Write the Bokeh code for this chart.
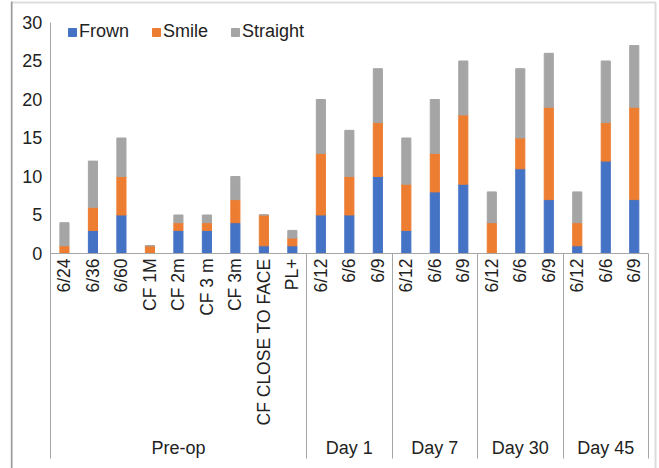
import math
from bokeh.plotting import figure
from bokeh.models import Range1d, LinearAxis, FixedTicker, ColumnDataSource, BoxAnnotation
from bokeh.embed import file_html
from bokeh.resources import INLINE

# ---- data ----
groups = ["Pre-op", "Day 1", "Day 7", "Day 30", "Day 45"]
group_sizes = [9, 3, 3, 3, 3]
categories = ["6/24", "6/36", "6/60", "CF 1M", "CF 2m", "CF 3 m", "CF 3m", "CF CLOSE TO FACE", "PL+",
              "6/12", "6/6", "6/9",
              "6/12", "6/6", "6/9",
              "6/12", "6/6", "6/9",
              "6/12", "6/6", "6/9"]
frown = [0, 3, 5, 0, 3, 3, 4, 1, 1, 5, 5, 10, 3, 8, 9, 0, 11, 7, 1, 12, 7]
smile = [1, 3, 5, 1, 1, 1, 3, 4, 1, 8, 5, 7, 6, 5, 9, 4, 4, 12, 3, 5, 12]
straight = [3, 6, 5, 0, 1, 1, 3, 0, 1, 7, 6, 7, 6, 7, 7, 4, 9, 7, 4, 8, 8]
series = ["Frown", "Smile", "Straight"]
colors = ["#4472C4", "#ED7D31", "#A5A5A5"]
y_ticks = [0, 5, 10, 15, 20, 25, 30]

# ---- derived positions ----
n = len(categories)
x_pos = [i + 0.5 for i in range(n)]
edges = [0]
for s in group_sizes:
    edges.append(edges[-1] + s)
group_centers = [(edges[i] + edges[i + 1]) / 2 for i in range(len(groups))]

src = ColumnDataSource(dict(x=x_pos, Frown=frown, Smile=smile, Straight=straight))

FONT = "Liberation Sans"
TXT = "#222222"
AXC = "#a6a6a6"

p = figure(width=659, height=468,
           x_range=Range1d(-1.7445, 21.3861), y_range=Range1d(-27.922, 32.857),
           x_axis_type=None, y_axis_type=None,
           toolbar_location=None, output_backend="svg",
           min_border_left=0, min_border_right=0, min_border_top=0, min_border_bottom=0)
p.outline_line_color = None
p.background_fill_color = "white"
p.border_fill_color = "white"

# chart-area border (no bottom edge, darker left edge as in the reference)
p.add_layout(BoxAnnotation(left=11, right=655, top=2, bottom=520,
                           left_units="canvas", right_units="canvas",
                           top_units="canvas", bottom_units="canvas",
                           fill_color=None, line_color="#8c8c8c", line_width=2))
p.add_layout(BoxAnnotation(left=10.5, right=12, top=1, bottom=520,
                           left_units="canvas", right_units="canvas",
                           top_units="canvas", bottom_units="canvas",
                           fill_color="#3a3a3a", line_color=None))

p.vbar_stack(series, x="x", width=0.32, color=colors, source=src, legend_label=series)

# y axis
yax = LinearAxis(fixed_location=0, bounds=(0, 30),
                 ticker=FixedTicker(ticks=y_ticks, minor_ticks=[]),
                 major_tick_in=0, major_tick_out=0, minor_tick_in=0, minor_tick_out=0,
                 major_tick_line_color=None, minor_tick_line_color=None,
                 axis_line_color=AXC, major_label_standoff=8,
                 major_label_text_font=FONT, major_label_text_font_size="18px",
                 major_label_text_color=TXT)
p.add_layout(yax, "left")

# x axis line + group separators
sep_ax = LinearAxis(fixed_location=0, bounds=(0, n),
                    ticker=FixedTicker(ticks=edges, minor_ticks=[]),
                    major_tick_in=0, major_tick_out=205, minor_tick_in=0, minor_tick_out=0,
                    major_tick_line_color=AXC, minor_tick_line_color=None,
                    axis_line_color=AXC, major_label_text_color=None,
                    major_label_text_font_size="0px")
p.add_layout(sep_ax, "below")

# category labels
cat_ax = LinearAxis(fixed_location=0, bounds=(0, n),
                    ticker=FixedTicker(ticks=x_pos, minor_ticks=[]),
                    major_label_overrides={x: c for x, c in zip(x_pos, categories)},
                    major_label_orientation=math.pi / 2,
                    major_tick_in=0, major_tick_out=0, minor_tick_in=0, minor_tick_out=0,
                    major_tick_line_color=None, minor_tick_line_color=None,
                    axis_line_color=None, major_label_standoff=5,
                    major_label_text_font=FONT, major_label_text_font_size="17.5px",
                    major_label_text_color=TXT)
p.add_layout(cat_ax, "below")

# group labels
grp_ax = LinearAxis(fixed_location=0, bounds=(0, n),
                    ticker=FixedTicker(ticks=group_centers, minor_ticks=[]),
                    major_label_overrides={x: g for x, g in zip(group_centers, groups)},
                    major_tick_in=0, major_tick_out=0, minor_tick_in=0, minor_tick_out=0,
                    major_tick_line_color=None, minor_tick_line_color=None,
                    axis_line_color=None, major_label_standoff=185,
                    major_label_text_font=FONT, major_label_text_font_size="18px",
                    major_label_text_color=TXT)
p.add_layout(grp_ax, "below")

lg = p.legend[0]
lg.location = (67, 426)
lg.orientation = "horizontal"
lg.padding = 0
lg.margin = 0
lg.spacing = 22
lg.glyph_width = 10
lg.glyph_height = 10
lg.label_standoff = 2
lg.border_line_color = None
lg.background_fill_alpha = 0
lg.label_text_font = FONT
lg.label_text_font_size = "18px"
lg.label_text_color = TXT

open("out.html", "w").write(file_html(p, INLINE))
